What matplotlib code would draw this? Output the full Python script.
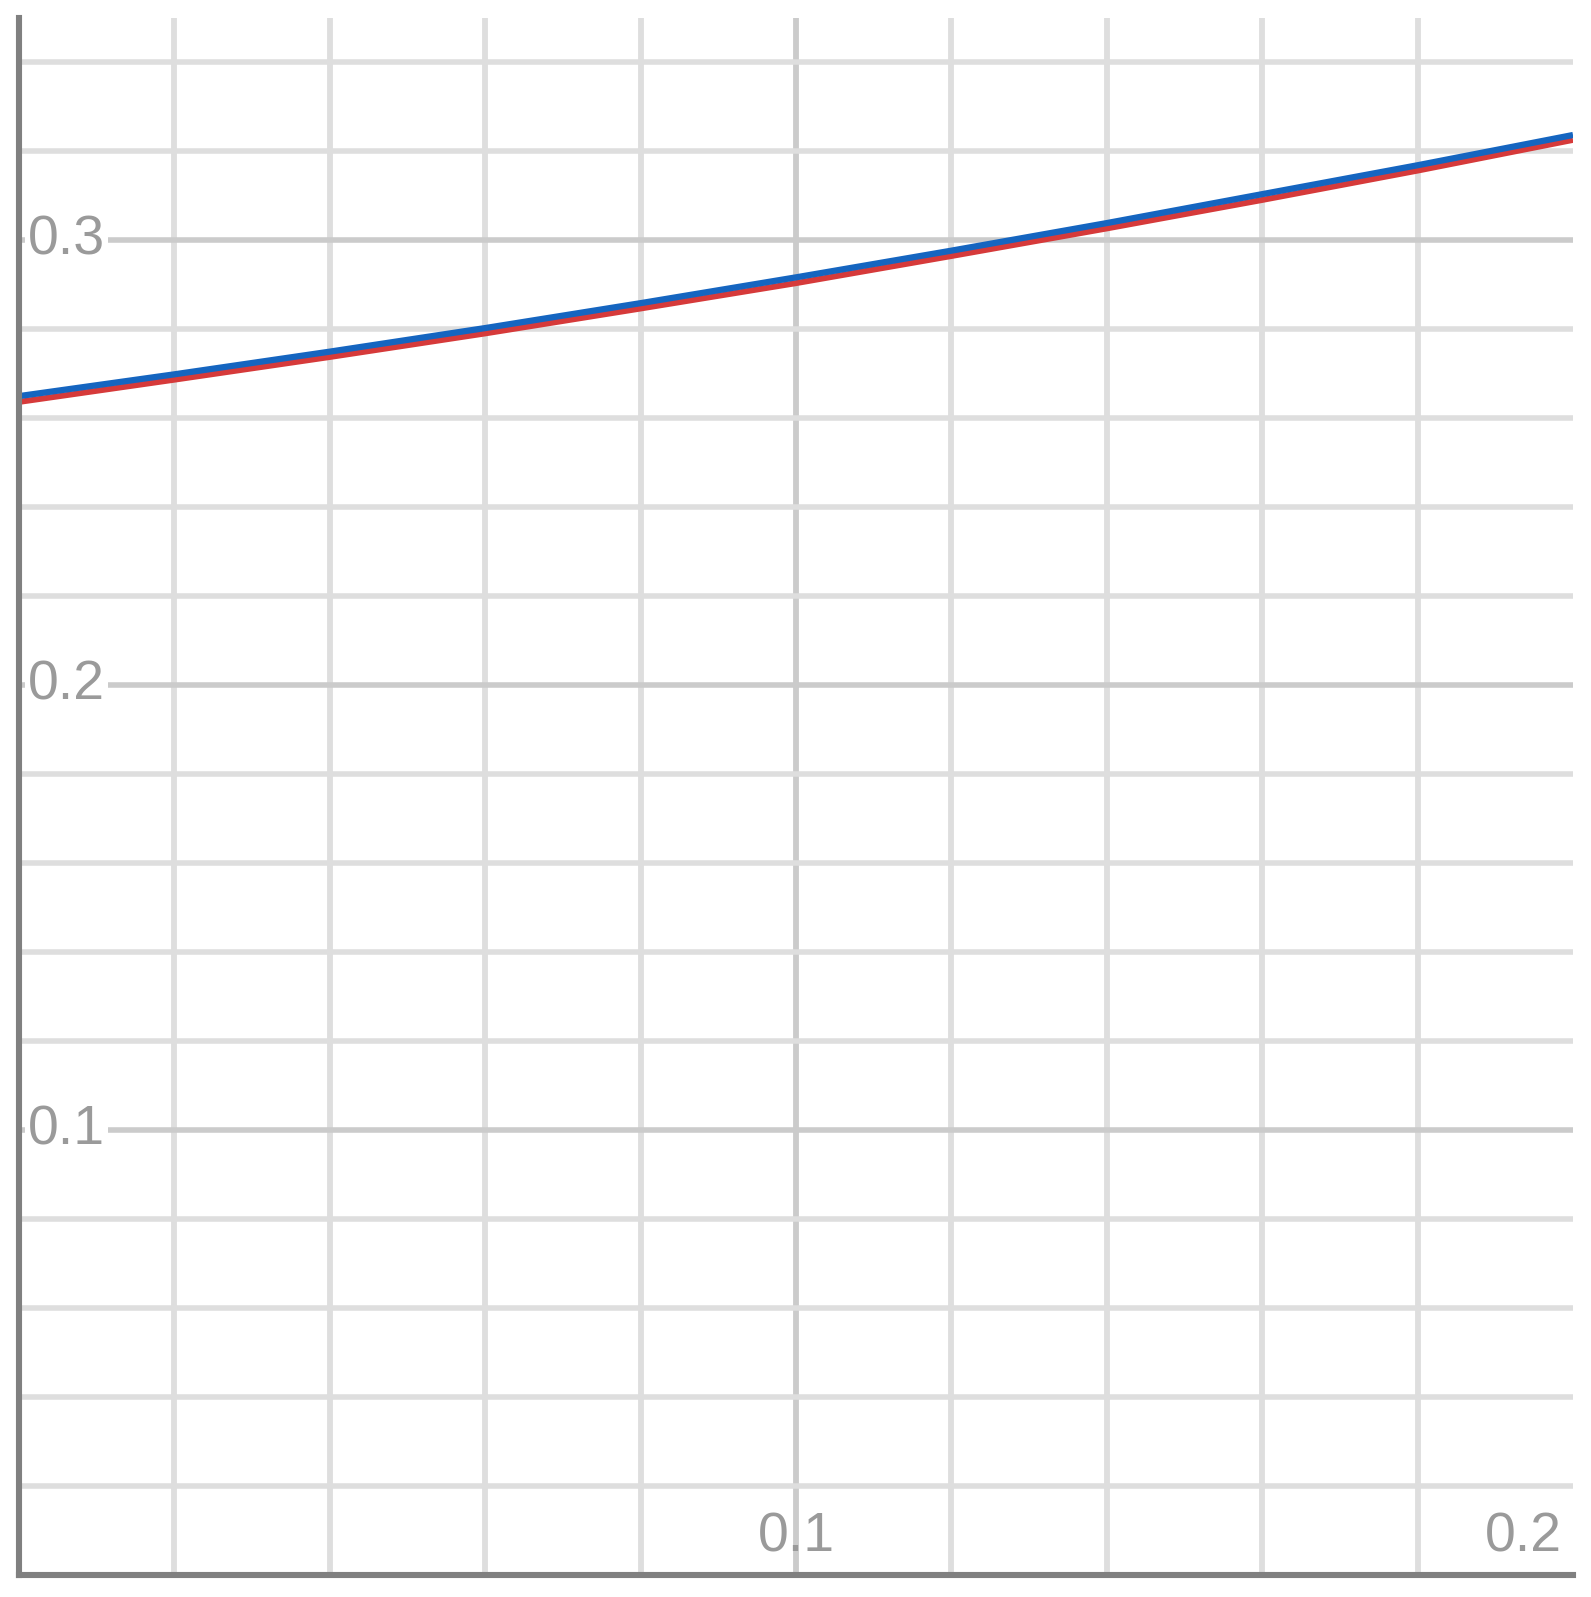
import matplotlib
matplotlib.use("Agg")
import matplotlib.pyplot as plt

# data
x_vals = [0.00, 0.02, 0.04, 0.06, 0.08, 0.10, 0.12, 0.14, 0.16, 0.18, 0.20]
blue_vals = [0.2650, 0.2699, 0.2750, 0.2803, 0.2859, 0.2917, 0.2977, 0.3039, 0.3104, 0.3169, 0.3237]
red_vals = [0.2637, 0.2687, 0.2738, 0.2791, 0.2847, 0.2904, 0.2965, 0.3027, 0.3091, 0.3157, 0.3226]

x_grid = [0.02, 0.04, 0.06, 0.08, 0.10, 0.12, 0.14, 0.16, 0.18]
y_grid = [0.02, 0.04, 0.06, 0.08, 0.10, 0.12, 0.14, 0.16, 0.18, 0.20,
          0.22, 0.24, 0.26, 0.28, 0.30, 0.32, 0.34]
x_labels = {0.1: "0.1", 0.2: "0.2"}
y_labels = {0.1: "0.1", 0.2: "0.2", 0.3: "0.3"}

W, H = 1591, 1597
fig = plt.figure(figsize=(W / 100, H / 100), dpi=100)
ax = fig.add_axes([19 / W, 1 - 1575 / H, (1573 - 19) / W, (1575 - 18) / H])
ax.set_xlim(0, 0.2)
ax.set_ylim(0, 0.35)

light = "#dedede"
dark = "#cbcbcb"
for xv in x_grid:
    c = dark if abs(xv - 0.1) < 1e-9 else light
    ax.axvline(xv, color=c, lw=4.2, zorder=0.5)
for yv in y_grid:
    c = dark if abs(yv / 0.1 - round(yv / 0.1)) < 1e-6 else light
    ax.axhline(yv, color=c, lw=4.0, zorder=0.5)

ax.plot(x_vals, red_vals, color="#d63a3a", lw=4.3, zorder=3, solid_capstyle="butt")
ax.plot(x_vals, blue_vals, color="#1565c0", lw=4.5, zorder=4, solid_capstyle="butt")

ax.set_xticks([])
ax.set_yticks([])
for s in ["top", "right"]:
    ax.spines[s].set_visible(False)
for s in ["left", "bottom"]:
    ax.spines[s].set_color("#808080")
    ax.spines[s].set_linewidth(4.4)
    ax.spines[s].set_zorder(5)

font = dict(family=["Liberation Sans", "DejaVu Sans"], size=40, color="#9a9a9a")
ytr = ax.get_yaxis_transform()
xtr = ax.get_xaxis_transform()
for yv, lab in y_labels.items():
    ax.text(0.0058, yv, lab, transform=ytr, ha="left", va="center", zorder=2,
            bbox=dict(facecolor="white", edgecolor="none", pad=2), **font)
for xv, lab in x_labels.items():
    if xv >= 0.2:
        ax.text(0.993, 0.024, lab, transform=ax.transAxes, ha="right", va="center", zorder=2, **font)
    else:
        ax.text(xv, 0.024, lab, transform=xtr, ha="center", va="center", zorder=2, **font)

fig.savefig("out.png", dpi=100, facecolor="white")
